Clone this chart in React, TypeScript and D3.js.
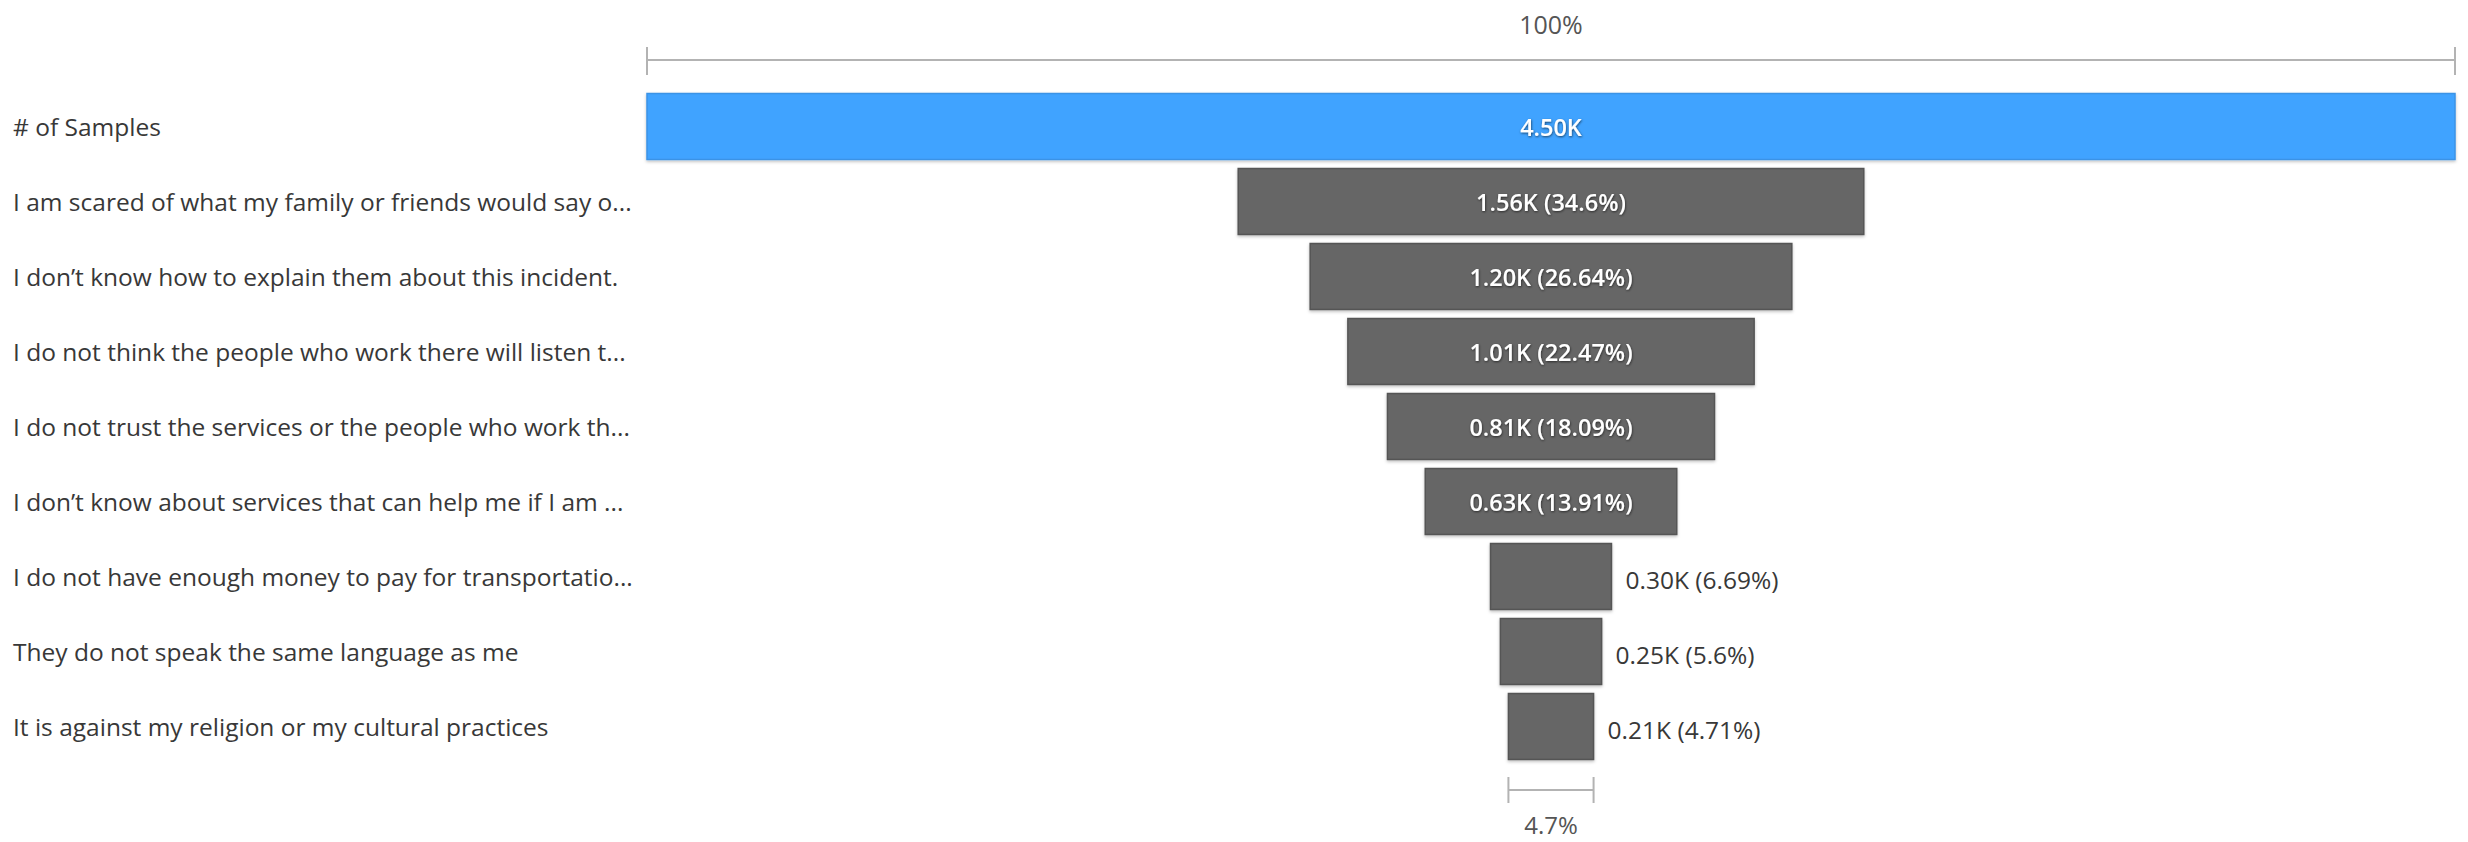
import React from "react";
import * as d3 from "d3";

const categories = [
  "# of Samples",
  "I am scared of what my family or friends would say o...",
  "I don\u2019t know how to explain them about this incident.",
  "I do not think the people who work there will listen t...",
  "I do not trust the services or the people who work th...",
  "I don\u2019t know about services that can help me if I am ...",
  "I do not have enough money to pay for transportatio...",
  "They do not speak the same language as me",
  "It is against my religion or my cultural practices",
];
const values = [4500, 1557, 1199, 1011, 814, 626, 301, 252, 212];
const percents = [100, 34.6, 26.64, 22.47, 18.09, 13.91, 6.69, 5.6, 4.71];

const W = 2468;
const H = 842;
const FONT = "'Segoe UI', 'Open Sans', 'Noto Sans', sans-serif";

export default function App() {
  const left = 647;
  const right = 2455;
  const cx = (left + right) / 2;
  const x = d3.scaleLinear().domain([0, 100]).range([0, right - left]);
  const y = d3
    .scaleBand<string>()
    .domain(categories)
    .range([89, 89 + 75 * categories.length])
    .paddingInner(0.12)
    .paddingOuter(0.06);
  const fmtVal = (v: number) => (v / 1000).toFixed(2) + "K";
  const fmtPct = (p: number) => `${+p.toFixed(2)}%`;
  const lastPct = percents[percents.length - 1];
  const lastW = x(lastPct);
  const topY = 60;
  const botY = 790;

  return (
    <svg
      width={W}
      height={H}
      style={{ position: "absolute", left: 0, top: 0, background: "#fff" }}
      fontFamily={FONT}
    >
      <defs>
        <filter id="barShadow" x="-5%" y="-20%" width="110%" height="150%">
          <feDropShadow dx="0" dy="1.5" stdDeviation="1.5" floodColor="#000" floodOpacity="0.25" />
        </filter>
        <filter id="textShadow" x="-10%" y="-30%" width="120%" height="160%">
          <feDropShadow dx="0.5" dy="1" stdDeviation="1" floodColor="#000" floodOpacity="0.6" />
        </filter>
      </defs>

      {/* top 100% bracket */}
      <g stroke="#b3b3b3" strokeWidth={2}>
        <line x1={left} x2={right} y1={topY} y2={topY} />
        <line x1={left} x2={left} y1={47} y2={75} />
        <line x1={right} x2={right} y1={47} y2={75} />
      </g>
      <text x={cx} y={24} textAnchor="middle" dominantBaseline="central" fontSize={25} fill="#555">
        100%
      </text>

      {categories.map((c, i) => {
        const w = x(percents[i]);
        const by = y(c)!;
        const bh = y.bandwidth();
        const isFirst = i === 0;
        const label = isFirst ? fmtVal(values[i]) : `${fmtVal(values[i])} (${fmtPct(percents[i])})`;
        const estW = label.length * 13 + 30;
        const inside = estW < w;
        return (
          <g key={c}>
            <text x={13} y={by + bh / 2} dominantBaseline="central" fontSize={24.5} fill="#383838">
              {c}
            </text>
            <rect
              x={cx - w / 2}
              y={by}
              width={w}
              height={bh}
              fill={isFirst ? "#41a3ff" : "#666666"}
              stroke={isFirst ? "#3b93e6" : "#555555"}
              strokeWidth={1.5}
              filter="url(#barShadow)"
            />
            {inside ? (
              <text
                x={cx}
                y={by + bh / 2}
                textAnchor="middle"
                dominantBaseline="central"
                fontSize={23.5}
                fontWeight={600}
                fill="#fff"
                filter="url(#textShadow)"
              >
                {label}
              </text>
            ) : (
              <text
                x={cx + w / 2 + 14}
                y={by + bh / 2 + 3}
                dominantBaseline="central"
                fontSize={24.5}
                fill="#383838"
              >
                {label}
              </text>
            )}
          </g>
        );
      })}

      {/* bottom bracket for last stage */}
      <g stroke="#b3b3b3" strokeWidth={2}>
        <line x1={cx - lastW / 2} x2={cx + lastW / 2} y1={botY} y2={botY} />
        <line x1={cx - lastW / 2} x2={cx - lastW / 2} y1={777} y2={803} />
        <line x1={cx + lastW / 2} x2={cx + lastW / 2} y1={777} y2={803} />
      </g>
      <text x={cx} y={824} textAnchor="middle" dominantBaseline="central" fontSize={24} fill="#555">
        {`${+lastPct.toFixed(1)}%`}
      </text>
    </svg>
  );
}
